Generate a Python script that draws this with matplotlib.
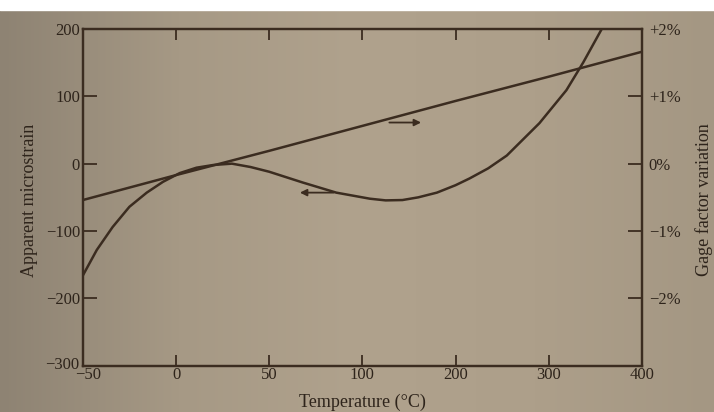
import numpy as np
import matplotlib
matplotlib.use("Agg")
import matplotlib.pyplot as plt
from matplotlib.colors import LinearSegmentedColormap
from matplotlib.transforms import ScaledTranslation

# Temperature axis labels (the axis is evenly spaced per tick)
temp_ticks = [-50, 0, 50, 100, 200, 300, 400]

# Apparent strain vs temperature (microstrain)
strain_temp = [-50, -42.5, -34, -25, -15.7, -7, 2, 11, 20, 30, 40, 50, 68,
               86, 108, 125, 143, 160, 180, 200, 215, 235, 255, 290, 319,
               337, 357]
strain_vals = [-166, -128, -94, -64, -43, -27, -14, -6, -2, 0, -5, -12, -28,
               -43, -52, -54.5, -54, -50, -43, -32, -22, -7, 12, 60, 109,
               150, 200]

# Gage factor variation vs temperature (%)
gf_temp = [-50, 0, 50, 100, 200, 300, 400]
gf_vals = [-0.54, -0.17, 0.19, 0.56, 0.93, 1.29, 1.66]

strain_ticks = [-300, -200, -100, 0, 100, 200]
gf_ticks = [-2, -1, 0, 1, 2]
gf_ticklabels = ["\u22122%", "\u22121%", "0%", "+1%", "+2%"]

ink = "#3b2c20"
text_ink = "#2e241b"


def fwd(t):
    t = np.asarray(t, dtype=float)
    return np.where(t <= 100, (t + 50) / 50.0, 3 + (t - 100) / 100.0)


def inv(p):
    p = np.asarray(p, dtype=float)
    return np.where(p <= 3, p * 50.0 - 50, 100 + (p - 3) * 100.0)


plt.rcParams["font.family"] = ["Liberation Serif", "DejaVu Serif"]

fig = plt.figure(figsize=(7.14, 4.12), dpi=100)

# paper background with a soft horizontal shading
bg = fig.add_axes([0, 0, 1, 1], zorder=-10)
cmap = LinearSegmentedColormap.from_list(
    "paper", ["#8e8373", "#a69985", "#b0a28d", "#ad9f8a", "#a49783"])
grad = np.linspace(0, 1, 256).reshape(1, -1)
bg.imshow(grad, aspect="auto", cmap=cmap, extent=[0, 1, 0, 1])
bg.fill_between([0, 1], 0.975, 1.0, color="white")
bg.set_xlim(0, 1)
bg.set_ylim(0, 1)
bg.axis("off")

ax = fig.add_axes([0.116, 0.112, 0.783, 0.818])
ax.patch.set_alpha(0)
ax.set_xscale("function", functions=(fwd, inv))
ax.set_xlim(-50, 400)
ax.set_ylim(-300, 200)

ax.plot(strain_temp, strain_vals, color=ink, lw=1.8, solid_capstyle="round",
        solid_joinstyle="round")

ax2 = ax.twinx()
ax2.set_ylim(-3, 2)
ax2.plot(gf_temp, gf_vals, color=ink, lw=1.8)

# direction arrows pointing to each curve's axis
ax.annotate("", xy=(65, -43), xytext=(86, -43),
            arrowprops=dict(arrowstyle="-|>", color=ink, lw=1.3,
                            mutation_scale=10))
ax.annotate("", xy=(166, 61), xytext=(126, 61),
            arrowprops=dict(arrowstyle="-|>", color=ink, lw=1.3,
                            mutation_scale=10))

ax.set_xticks(temp_ticks)
ax.set_xticklabels([str(t).replace("-", "\u2212") for t in temp_ticks])
ax.set_yticks(strain_ticks)
ax.set_yticklabels([str(v).replace("-", "\u2212") for v in strain_ticks])
ax2.set_yticks(gf_ticks)
ax2.set_yticklabels(gf_ticklabels)

ax.tick_params(axis="x", direction="in", length=8, width=1.3, color=ink,
               top=True, labelsize=12, labelcolor=text_ink, pad=1)
ax.tick_params(axis="y", direction="in", length=10, width=1.3, color=ink,
               labelsize=12, labelcolor=text_ink, pad=2)
ax2.tick_params(axis="y", direction="in", length=10, width=1.3, color=ink,
                labelsize=12, labelcolor=text_ink, pad=5)

# keep the corner labels (-300 and -50) from running into each other
fig.canvas.draw()
xl0 = ax.get_xticklabels()[0]
xl0.set_transform(xl0.get_transform()
                  + ScaledTranslation(5 / 100, 0, fig.dpi_scale_trans))
yl0 = ax.get_yticklabels()[0]
yl0.set_transform(yl0.get_transform()
                  + ScaledTranslation(-1 / 100, 3 / 100, fig.dpi_scale_trans))

for a in (ax, ax2):
    for s in a.spines.values():
        s.set_color(ink)
        s.set_linewidth(1.6)

fig.text(362 / 714, 1 - 402 / 412, "Temperature (\u00b0C)", fontsize=13,
         color=text_ink, ha="center", va="center")
fig.text(30 / 714, 1 - 200 / 412, "Apparent microstrain", fontsize=13,
         color=text_ink, ha="center", va="center", rotation=90)
fig.text(704 / 714, 1 - 200 / 412, "Gage factor variation", fontsize=13,
         color=text_ink, ha="center", va="center", rotation=90)

fig.savefig("out.png", dpi=100)
